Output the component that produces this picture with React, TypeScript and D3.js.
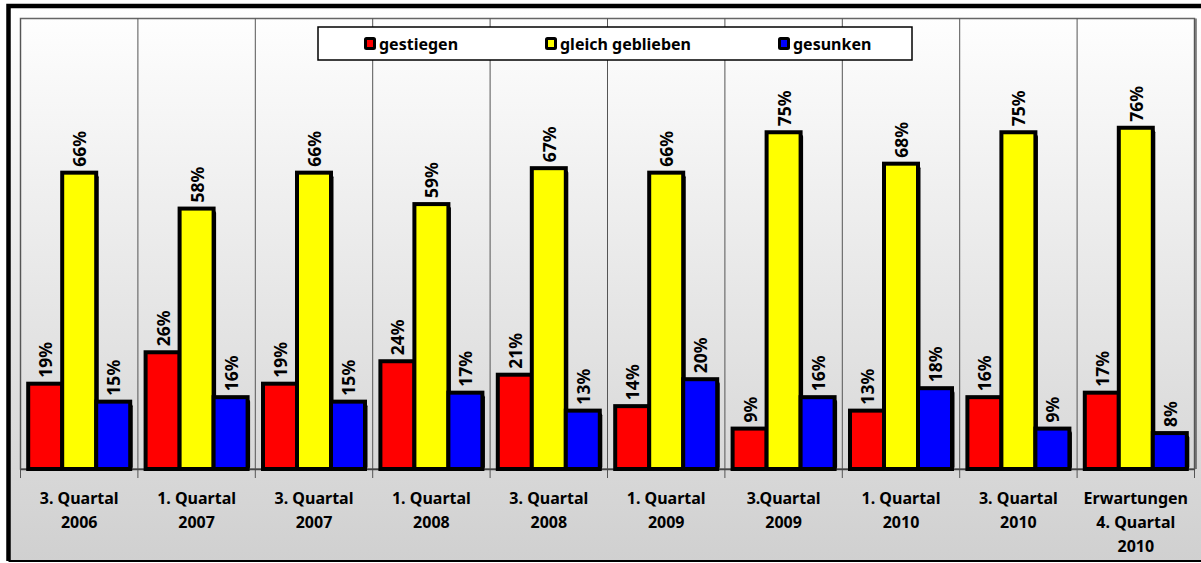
import React from "react";
import * as d3 from "d3";

const categories: string[][] = [
  ["3. Quartal", "2006"],
  ["1. Quartal", "2007"],
  ["3. Quartal", "2007"],
  ["1. Quartal", "2008"],
  ["3. Quartal", "2008"],
  ["1. Quartal", "2009"],
  ["3.Quartal", "2009"],
  ["1. Quartal", "2010"],
  ["3. Quartal", "2010"],
  ["Erwartungen", "4. Quartal", "2010"],
];
const gestiegen = [19, 26, 19, 24, 21, 14, 9, 13, 16, 17];
const gleich = [66, 58, 66, 59, 67, 66, 75, 68, 75, 76];
const gesunken = [15, 16, 15, 17, 13, 20, 16, 18, 9, 8];
const seriesNames = ["gestiegen", "gleich geblieben", "gesunken"];
const seriesColors = ["#ff0000", "#ffff00", "#0000ff"];

const W = 1201;
const H = 563;
const plot = { left: 20.5, right: 1194.5, top: 18.5, bottom: 469 };
const FONT = "'Noto Sans', 'Open Sans', sans-serif";

export default function App() {
  const series = [gestiegen, gleich, gesunken];
  const x = d3
    .scaleBand<number>()
    .domain(d3.range(categories.length))
    .range([plot.left, plot.right])
    .paddingInner(0)
    .paddingOuter(0);
  const bw = x.bandwidth();
  const groupW = 102;
  const sub = d3
    .scaleBand<number>()
    .domain([0, 1, 2])
    .range([(bw - groupW) / 2, (bw + groupW) / 2])
    .padding(0);
  const y = d3.scaleLinear().domain([0, 100]).range([plot.bottom, 20]);

  const legendX = [364, 545, 778];

  return (
    <svg
      width={W}
      height={H}
      style={{ position: "absolute", left: 0, top: 0, display: "block" }}
      fontFamily={FONT}
    >
      <defs>
        <linearGradient id="bg" x1="0" y1="0" x2="0" y2="1">
          <stop offset="0%" stopColor="#ffffff" />
          <stop offset="100%" stopColor="#d0d0d0" />
        </linearGradient>
      </defs>
      <rect x={0} y={0} width={W} height={H} fill="#ffffff" />
      <rect x={8.5} y={6} width={1200} height={555} fill="url(#bg)" stroke="none" />
      {/* plot frame */}
      <rect
        x={plot.left}
        y={plot.top}
        width={plot.right - plot.left}
        height={plot.bottom - plot.top}
        fill="none"
        stroke="#666"
        strokeWidth={1.5}
      />
      <line x1={plot.right + 1.5} x2={plot.right + 1.5} y1={plot.top} y2={plot.bottom} stroke="#222" strokeWidth={1} />
      {/* category separators */}
      {d3.range(categories.length + 1).map((i) => {
        const xx = i < categories.length ? x(i)! : plot.right;
        return (
          <line
            key={"g" + i}
            x1={xx}
            x2={xx}
            y1={plot.top}
            y2={478}
            stroke="#555"
            strokeWidth={1}
          />
        );
      })}
      {/* baseline */}
      <line x1={plot.left} x2={plot.right} y1={plot.bottom + 0.5} y2={plot.bottom + 0.5} stroke="#444" strokeWidth={1.5} />
      {/* bar shadows */}
      {categories.map((_, i) =>
        series.map((vals, s) => {
          const bx = x(i)! + sub(s)!;
          const by = y(vals[i]);
          const h = plot.bottom - by;
          return (
            <rect key={`b${i}-${s}`} x={bx + 2.5} y={by + 2.5} width={sub.bandwidth()} height={h - 2.5} fill="#000" rx={2} />
          );
        })
      )}
      {categories.map((_, i) =>
        series.map((vals, s) => {
          const bx = x(i)! + sub(s)!;
          const by = y(vals[i]);
          const h = plot.bottom - by;
          return (
            <rect
              key={`r${i}-${s}`}
              x={bx}
              y={by}
              width={sub.bandwidth()}
              height={h}
              fill={seriesColors[s]}
              stroke="#000"
              strokeWidth={4}
            />
          );
        })
      )}
      {/* value labels */}
      {categories.map((_, i) =>
        series.map((vals, s) => {
          const cx = x(i)! + sub(s)! + sub.bandwidth() / 2;
          const by = y(vals[i]) - 6;
          return (
            <text
              key={`t${i}-${s}`}
              transform={`translate(${cx},${by}) rotate(-90)`}
              dominantBaseline="central"
              fontSize={17.5}
              fontWeight="bold"
              fill="#000"
            >
              {vals[i]}%
            </text>
          );
        })
      )}
      {/* category labels */}
      {categories.map((lines, i) => (
        <text
          key={"c" + i}
          x={x(i)! + bw / 2}
          textAnchor="middle"
          fontSize={16}
          fontWeight="bold"
          fill="#000"
        >
          {lines.map((l, k) => (
            <tspan key={k} x={x(i)! + bw / 2} y={504 + k * 24}>
              {l}
            </tspan>
          ))}
        </text>
      ))}
      {/* legend */}
      <rect x={318} y={27} width={594} height={33} fill="#fff" stroke="#000" strokeWidth={1.5} />
      {seriesNames.map((n, s) => (
        <g key={"l" + s}>
          <rect x={legendX[s] + 1.5} y={38.5} width={9} height={10} fill={seriesColors[s]} stroke="#000" strokeWidth={3} rx={1} />
          <text x={legendX[s] + 15} y={50} fontSize={16} fontWeight="bold" fill="#000">
            {n}
          </text>
        </g>
      ))}
      {/* outer frame */}
      <path d={`M 1201 6 H 8.5 V 561`} fill="none" stroke="#000" strokeWidth={4.5} />
      <line x1={8.5} x2={1201} y1={561} y2={561} stroke="#000" strokeWidth={2} />
    </svg>
  );
}
